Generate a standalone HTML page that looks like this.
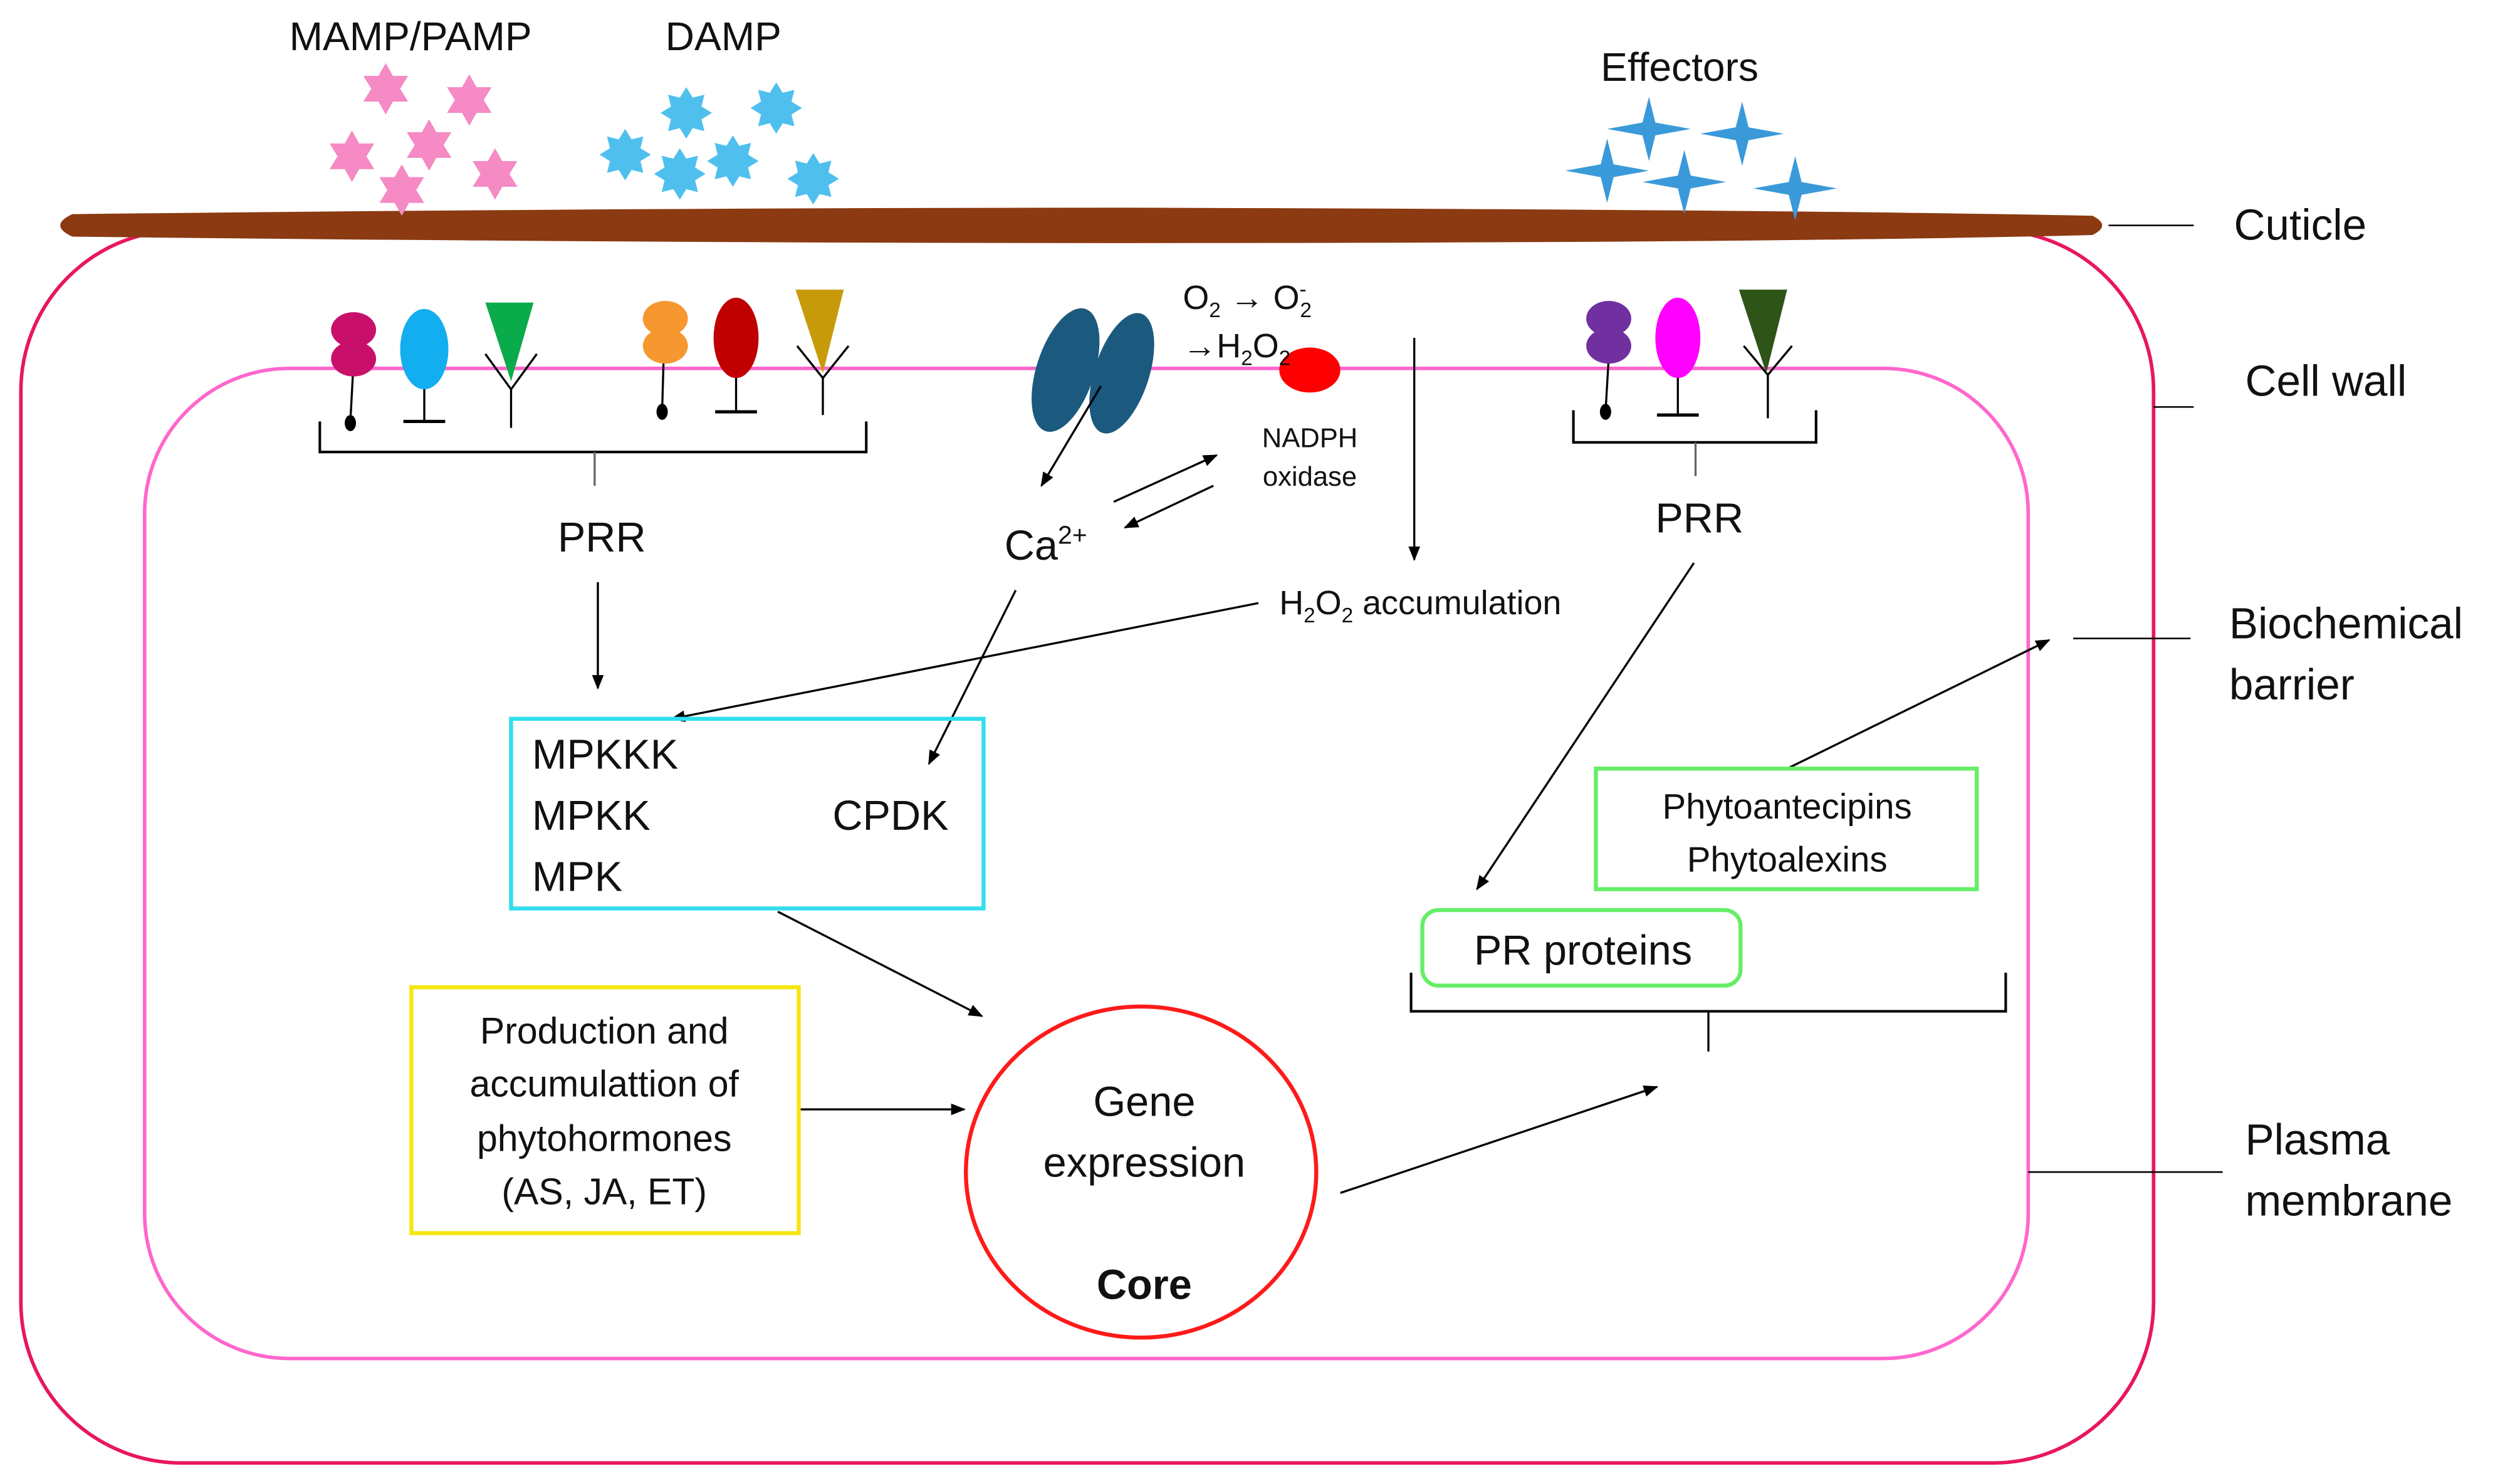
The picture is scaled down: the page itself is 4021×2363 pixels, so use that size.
<!DOCTYPE html>
<html><head><meta charset="utf-8"><style>
html,body{margin:0;padding:0;background:#fff;}
svg{display:block;}
text{font-family:"Liberation Sans",sans-serif;fill:#111;}
</style></head><body>
<svg width="4021" height="2363" viewBox="0 0 1568 921" xmlns="http://www.w3.org/2000/svg">
<defs>
<marker id="a" viewBox="0 0 10 10" refX="9" refY="5" markerWidth="7" markerHeight="7" orient="auto-start-reverse"><path d="M0,1 L10,5 L0,9 z" fill="#000"/></marker>
<polygon id="s6" points="0,-16 4.5,-8 13.9,-8 9,0 13.9,8 4.5,8 0,16 -4.5,8 -13.9,8 -9,0 -13.9,-8 -4.5,-8" fill="#f58ac4"/>
<polygon id="s8" points="0,-16 4,-9.5 11.3,-11.3 9.5,-4 16,0 9.5,4 11.3,11.3 4,9.5 0,16 -4,9.5 -11.3,11.3 -9.5,4 -16,0 -9.5,-4 -11.3,-11.3 -4,-9.5" fill="#4fc0ee"/>
<polygon id="s4" points="0,-20 4,-4 26,0 4,4 0,20 -4,4 -26,0 -4,-4" fill="#3a9ad9"/>
</defs>
<rect x="0" y="0" width="1568" height="921" fill="#fff"/>

<!-- cell wall & membrane -->
<rect x="13" y="143" width="1327" height="767" rx="100" fill="none" stroke="#e8175d" stroke-width="2.2"/>
<rect x="90" y="229" width="1172" height="616" rx="90" fill="none" stroke="#ff66cc" stroke-width="2.2"/>
<!-- cuticle -->
<path d="M45,133 Q400,129 700,129 Q1100,130 1302,134 Q1314,140 1302,146 Q1100,151 700,151 Q400,151 45,147 Q30,140 45,133 z" fill="#8b3a12"/>
<line x1="1312" y1="140" x2="1365" y2="140" stroke="#000" stroke-width="1"/>
<line x1="1340" y1="253" x2="1365" y2="253" stroke="#000" stroke-width="1"/>
<line x1="1290" y1="397" x2="1363" y2="397" stroke="#000" stroke-width="1"/>
<line x1="1262" y1="729" x2="1383" y2="729" stroke="#000" stroke-width="1"/>
<g font-size="27">
<text x="1390" y="149">Cuticle</text>
<text x="1397" y="246">Cell wall</text>
<text x="1387" y="397">Biochemical</text>
<text x="1387" y="435">barrier</text>
<text x="1397" y="718">Plasma</text>
<text x="1397" y="756">membrane</text>
</g>

<!-- top labels & stars -->
<g font-size="25">
<text x="180" y="31">MAMP/PAMP</text>
<text x="414" y="31">DAMP</text>
<text x="996" y="50">Effectors</text>
</g>
<use href="#s6" x="240" y="55"/><use href="#s6" x="292" y="62"/><use href="#s6" x="267" y="90"/>
<use href="#s6" x="219" y="97"/><use href="#s6" x="308" y="108"/><use href="#s6" x="250" y="118"/>
<use href="#s8" x="427" y="70"/><use href="#s8" x="483" y="67"/><use href="#s8" x="389" y="96"/>
<use href="#s8" x="456" y="100"/><use href="#s8" x="423" y="108"/><use href="#s8" x="506" y="111"/>
<use href="#s4" x="1026" y="80"/><use href="#s4" x="1084" y="83"/><use href="#s4" x="1000" y="106"/>
<use href="#s4" x="1048" y="113"/><use href="#s4" x="1117" y="117"/>

<!-- receptor group 1 -->
<g stroke="#000" stroke-width="1.3" fill="none">
<line x1="220" y1="225" x2="218" y2="262"/>
<line x1="264" y1="235" x2="264" y2="262"/><line x1="251" y1="262" x2="277" y2="262" stroke-width="2"/>
<polyline points="302,220 318,242 334,220"/><line x1="318" y1="242" x2="318" y2="266"/>
<line x1="413" y1="220" x2="412" y2="255"/>
<line x1="458" y1="230" x2="458" y2="256"/><line x1="445" y1="256" x2="471" y2="256" stroke-width="2"/>
<polyline points="496,215 512,235 528,215"/><line x1="512" y1="235" x2="512" y2="258"/>
<polyline points="199,262 199,281 539,281 539,262" stroke-width="1.6"/>
<line x1="370" y1="281" x2="370" y2="302" stroke="#666"/>
</g>
<ellipse cx="218" cy="263" rx="3.5" ry="5" fill="#000"/>
<ellipse cx="412" cy="256" rx="3.5" ry="5" fill="#000"/>
<ellipse cx="220" cy="205" rx="14" ry="11" fill="#c8106a"/><ellipse cx="220" cy="223" rx="14" ry="11" fill="#c8106a"/>
<ellipse cx="264" cy="217" rx="15" ry="25" fill="#12aef0"/>
<polygon points="302,188 332,188 318,237" fill="#0aab4a"/>
<ellipse cx="414" cy="198" rx="14" ry="11" fill="#f7972f"/><ellipse cx="414" cy="215" rx="14" ry="11" fill="#f7972f"/>
<ellipse cx="458" cy="210" rx="14" ry="25" fill="#c00000"/>
<polygon points="495,180 525,180 512,232" fill="#c79a0a"/>

<!-- receptor group 3 -->
<g stroke="#000" stroke-width="1.3" fill="none">
<line x1="1001" y1="222" x2="999" y2="256"/>
<line x1="1044" y1="232" x2="1044" y2="258"/><line x1="1031" y1="258" x2="1057" y2="258" stroke-width="2"/>
<polyline points="1085,215 1100,233 1115,215"/><line x1="1100" y1="233" x2="1100" y2="260"/>
<polyline points="979,255 979,275 1130,275 1130,255" stroke-width="1.6"/>
<line x1="1055" y1="275" x2="1055" y2="296" stroke="#666"/>
</g>
<ellipse cx="999" cy="256" rx="3.5" ry="5" fill="#000"/>
<ellipse cx="1001" cy="198" rx="14" ry="11" fill="#7030a0"/><ellipse cx="1001" cy="215" rx="14" ry="11" fill="#7030a0"/>
<ellipse cx="1044" cy="210" rx="14" ry="25" fill="#ff00ff"/>
<polygon points="1082,180 1112,180 1099,232" fill="#2e5418"/>

<!-- ion channel & NADPH -->
<ellipse cx="663" cy="230" rx="18" ry="40" fill="#1b5a7e" transform="rotate(18 663 230)"/>
<ellipse cx="698" cy="232" rx="17" ry="39" fill="#1b5a7e" transform="rotate(18 698 232)"/>
<ellipse cx="815" cy="230" rx="19" ry="14" fill="#ff0000"/>
<g font-size="21">
<text x="736" y="192">O<tspan font-size="13" dy="5">2</tspan><tspan dy="-5" font-weight="bold"> → </tspan><tspan>O</tspan><tspan font-size="13" dy="-8">-</tspan><tspan font-size="13" dx="-4" dy="13">2</tspan></text>
<text x="736" y="222"><tspan font-weight="bold">→</tspan>H<tspan font-size="13" dy="5">2</tspan><tspan dy="-5">O</tspan><tspan font-size="13" dy="5">2</tspan></text>
</g>
<text x="815" y="278" font-size="17" text-anchor="middle">NADPH</text>
<text x="815" y="302" font-size="17" text-anchor="middle">oxidase</text>
<text x="625" y="348" font-size="26">Ca<tspan font-size="16" dy="-10">2+</tspan></text>
<text x="347" y="343" font-size="26">PRR</text>
<text x="1030" y="331" font-size="26">PRR</text>
<text x="796" y="382" font-size="21">H<tspan font-size="13" dy="5">2</tspan><tspan dy="-5">O</tspan><tspan font-size="13" dy="5">2</tspan><tspan dy="-5"> accumulation</tspan></text>

<!-- arrows -->
<g stroke="#000" stroke-width="1.3" fill="none" marker-end="url(#a)">
<line x1="685" y1="240" x2="648" y2="302"/>
<line x1="693" y1="312" x2="757" y2="283"/>
<line x1="755" y1="302" x2="700" y2="328"/>
<line x1="880" y1="210" x2="880" y2="348"/>
<line x1="372" y1="362" x2="372" y2="428"/>
<line x1="783" y1="375" x2="418" y2="447"/>
<line x1="632" y1="367" x2="578" y2="475"/>
<line x1="484" y1="567" x2="611" y2="632"/>
<line x1="497" y1="690" x2="600" y2="690"/>
<line x1="834" y1="742" x2="1031" y2="676"/>
<line x1="1054" y1="350" x2="919" y2="553"/>
<line x1="1112" y1="478" x2="1275" y2="398"/>
</g>

<!-- kinase box -->
<rect x="318" y="447" width="294" height="118" fill="none" stroke="#33ddee" stroke-width="2.5"/>
<g font-size="26">
<text x="331" y="478">MPKKK</text>
<text x="331" y="516">MPKK</text>
<text x="331" y="554">MPK</text>
<text x="518" y="516">CPDK</text>
</g>

<!-- phytohormones -->
<rect x="256" y="614" width="241" height="153" fill="none" stroke="#f5e610" stroke-width="2.5"/>
<g font-size="23" text-anchor="middle">
<text x="376" y="649">Production and</text>
<text x="376" y="682">accumulattion of</text>
<text x="376" y="716">phytohormones</text>
<text x="376" y="749">(AS, JA, ET)</text>
</g>

<!-- core -->
<ellipse cx="710" cy="729" rx="109" ry="103" fill="none" stroke="#ff1a1a" stroke-width="2.5"/>
<g font-size="26" text-anchor="middle">
<text x="712" y="694">Gene</text>
<text x="712" y="732">expression</text>
<text x="712" y="808" font-weight="bold">Core</text>
</g>

<!-- right boxes -->
<rect x="993" y="478" width="237" height="75" fill="none" stroke="#66ee66" stroke-width="2.5"/>
<text x="1112" y="509" font-size="22" text-anchor="middle">Phytoantecipins</text>
<text x="1112" y="542" font-size="22" text-anchor="middle">Phytoalexins</text>
<rect x="885" y="566" width="198" height="47" rx="10" fill="none" stroke="#66ee66" stroke-width="2.5"/>
<text x="985" y="600" font-size="26" text-anchor="middle">PR proteins</text>
<polyline points="878,605 878,629 1248,629 1248,605" fill="none" stroke="#000" stroke-width="1.6"/>
<line x1="1063" y1="629" x2="1063" y2="654" stroke="#000" stroke-width="1.3"/>
</svg>
</body></html>
